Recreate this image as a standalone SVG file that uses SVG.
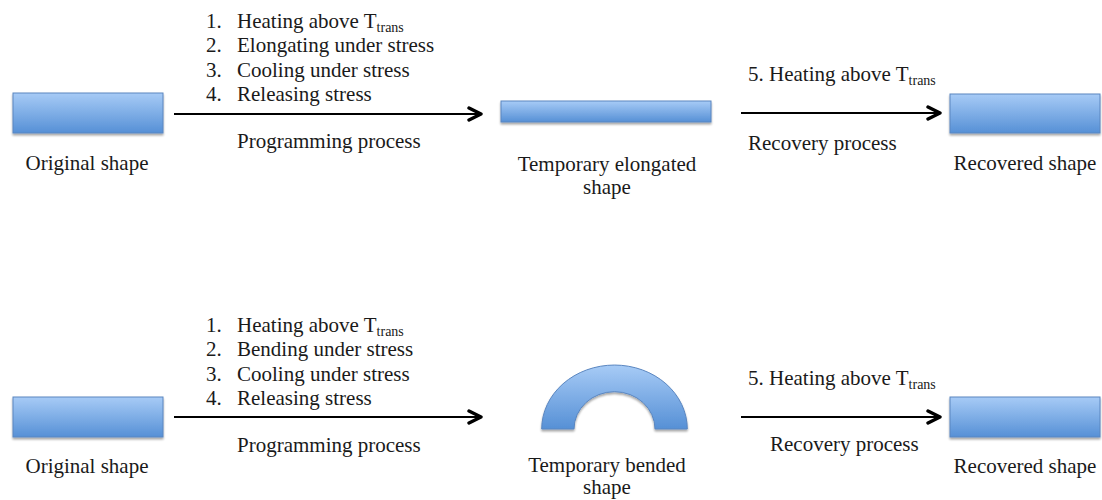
<svg xmlns="http://www.w3.org/2000/svg" width="1102" height="500" viewBox="0 0 1102 500">
<defs>
<linearGradient id="blue" x1="0" y1="0" x2="0" y2="1">
<stop offset="0" stop-color="#a7cbf6"/>
<stop offset="1" stop-color="#5690d6"/>
</linearGradient>
<filter id="sh" x="-10%" y="-20%" width="120%" height="150%">
<feGaussianBlur in="SourceAlpha" stdDeviation="1.2"/>
<feOffset dx="0" dy="1.5" result="b"/>
<feComponentTransfer><feFuncA type="linear" slope="0.35"/></feComponentTransfer>
<feMerge><feMergeNode/><feMergeNode in="SourceGraphic"/></feMerge>
</filter>
<marker id="chev" viewBox="0 0 16 16" refX="14" refY="8" markerWidth="16" markerHeight="16" markerUnits="userSpaceOnUse" orient="auto">
<path d="M2 2 L14 8 L2 14" fill="none" stroke="#000" stroke-width="3.4" stroke-linecap="round" stroke-linejoin="round"/>
</marker>
</defs>
<style>
.shape{fill:url(#blue);stroke:#5a86c0;stroke-width:1;filter:url(#sh)}
.t{font-family:"Liberation Serif","Times New Roman",serif;font-size:21px;fill:#1a1a1a}
.c{text-anchor:middle}
.sub{font-size:14px}
.arr{stroke:#000;stroke-width:2;fill:none;marker-end:url(#chev)}
</style>
<rect width="1102" height="500" fill="#fff"/>

<g id="original-top"><rect class="shape" x="13" y="93" width="150" height="40"/><text class="t c" x="87" y="170">Original shape</text></g>
<g id="temp-elongated"><rect class="shape" x="501" y="101" width="210" height="21"/><text class="t c" x="607" y="171">Temporary elongated</text><text class="t c" x="607" y="194">shape</text></g>
<g id="recovered-top"><rect class="shape" x="950" y="94" width="150" height="39"/><text class="t c" x="1025" y="170">Recovered shape</text></g>

<g id="original-bottom"><rect class="shape" x="13" y="397" width="150" height="40"/><text class="t c" x="87" y="473">Original shape</text></g>
<g id="temp-bended"><path class="shape" d="M541.7 429 A72.8 64 0 0 1 687.3 429 L655 429 A40.5 37.3 0 0 0 574 429 Z"/><text class="t c" x="607" y="472">Temporary bended</text><text class="t c" x="607" y="494">shape</text></g>
<g id="recovered-bottom"><rect class="shape" x="950" y="397" width="150" height="40"/><text class="t c" x="1025" y="473">Recovered shape</text></g>

<g id="connectors">
<line class="arr" x1="174" y1="114" x2="481" y2="114"/>
<line class="arr" x1="741" y1="113" x2="940" y2="113"/>
<line class="arr" x1="174" y1="417" x2="481" y2="417"/>
<line class="arr" x1="741" y1="417" x2="940" y2="417"/>
</g>

<g id="labels-top">
<text class="t" y="28"><tspan x="206">1.</tspan><tspan x="237">Heating above T</tspan><tspan class="sub" dy="4">trans</tspan></text>
<text class="t" y="52"><tspan x="206">2.</tspan><tspan x="237">Elongating under stress</tspan></text>
<text class="t" y="77"><tspan x="206">3.</tspan><tspan x="237">Cooling under stress</tspan></text>
<text class="t" y="101"><tspan x="206">4.</tspan><tspan x="237">Releasing stress</tspan></text>
<text class="t" x="237" y="148">Programming process</text>
<text class="t" x="748" y="81">5. Heating above T<tspan class="sub" dy="4">trans</tspan></text>
<text class="t" x="748" y="150">Recovery process</text>
</g>
<g id="labels-bottom">
<text class="t" y="332"><tspan x="206">1.</tspan><tspan x="237">Heating above T</tspan><tspan class="sub" dy="4">trans</tspan></text>
<text class="t" y="356"><tspan x="206">2.</tspan><tspan x="237">Bending under stress</tspan></text>
<text class="t" y="381"><tspan x="206">3.</tspan><tspan x="237">Cooling under stress</tspan></text>
<text class="t" y="405"><tspan x="206">4.</tspan><tspan x="237">Releasing stress</tspan></text>
<text class="t" x="237" y="452">Programming process</text>
<text class="t" x="748" y="385">5. Heating above T<tspan class="sub" dy="4">trans</tspan></text>
<text class="t" x="770" y="451">Recovery process</text>
</g>
</svg>
